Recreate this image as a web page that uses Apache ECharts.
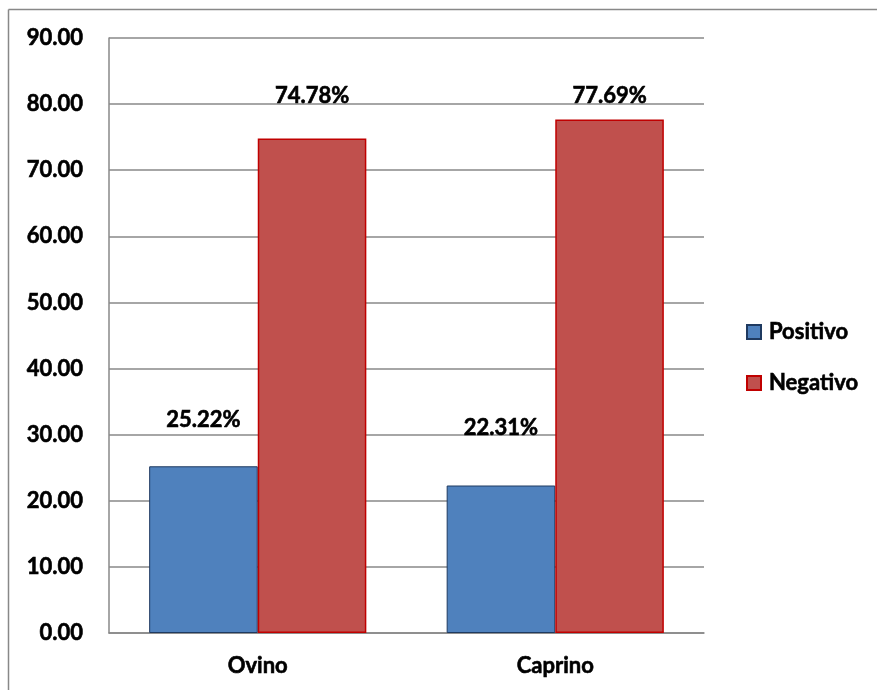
<!DOCTYPE html>
<html>
<head>
<meta charset="utf-8">
<script src="https://cdn.jsdelivr.net/npm/echarts@6/dist/echarts.min.js"></script>
<style>
html,body{margin:0;padding:0;background:#fff;}
#chart{width:877px;height:690px;}
</style>
</head>
<body>
<div id="chart"></div>
<script>
const categories = ['Ovino', 'Caprino'];
const positivo = [25.22, 22.31];
const negativo = [74.78, 77.69];
const seriesNames = ['Positivo', 'Negativo'];

// label offsets above bar tops (manually placed labels in the original)
const posLabelGap = [35, 47];
const negLabelGap = [32, 12];

const font = 'Lato, "Open Sans", sans-serif';
const txt = {fontFamily: font, fontWeight: 'bold', fontSize: 22, color: '#000', textBorderColor: '#000', textBorderWidth: 0.6};

function withLabels(values, gaps) {
  return values.map((v, i) => ({value: v, label: {distance: gaps[i]}}));
}

const chart = echarts.init(document.getElementById('chart'), null, {renderer: 'canvas'});
chart.setOption({
  animation: false,
  backgroundColor: '#fff',
  graphic: [
    {type: 'line', shape: {x1: 8.5, y1: 9.5, x2: 877, y2: 9.5}, style: {stroke: '#888', lineWidth: 1.5}, silent: true},
    {type: 'line', shape: {x1: 8.5, y1: 9.5, x2: 8.5, y2: 690}, style: {stroke: '#888', lineWidth: 1.5}, silent: true}
  ],
  grid: {left: 109, top: 38, right: 173, bottom: 57, containLabel: false},
  legend: {
    orient: 'vertical',
    left: 741,
    top: 315,
    itemWidth: 14,
    itemHeight: 14,
    itemGap: 27,
    icon: 'rect',
    data: seriesNames,
    textStyle: Object.assign({}, txt, {lineHeight: 24, padding: [0, 0, 0, 3]})
  },
  xAxis: {
    type: 'category',
    data: categories,
    axisLine: {lineStyle: {color: '#888', width: 1.5}},
    axisTick: {show: false},
    axisLabel: Object.assign({}, txt, {margin: 22})
  },
  yAxis: {
    type: 'value',
    min: 0,
    max: 90,
    interval: 10,
    axisLine: {show: true, lineStyle: {color: '#888', width: 1.5}},
    axisTick: {show: false},
    splitLine: {lineStyle: {color: '#898989', width: 1.5}},
    axisLabel: Object.assign({}, txt, {margin: 26, formatter: v => v.toFixed(2)})
  },
  series: [
    {
      name: seriesNames[0], type: 'bar', data: withLabels(positivo, posLabelGap),
      barGap: '0%', barCategoryGap: '27%',
      itemStyle: {color: '#4F81BD', borderColor: '#1F3A60', borderWidth: 1},
      label: Object.assign({show: true, position: 'top', formatter: p => p.value.toFixed(2) + '%'}, txt)
    },
    {
      name: seriesNames[1], type: 'bar', data: withLabels(negativo, negLabelGap),
      barGap: '0%', barCategoryGap: '27%',
      itemStyle: {color: '#C0504D', borderColor: '#C00000', borderWidth: 1.5},
      label: Object.assign({show: true, position: 'top', formatter: p => p.value.toFixed(2) + '%'}, txt)
    }
  ]
});
</script>
</body>
</html>
